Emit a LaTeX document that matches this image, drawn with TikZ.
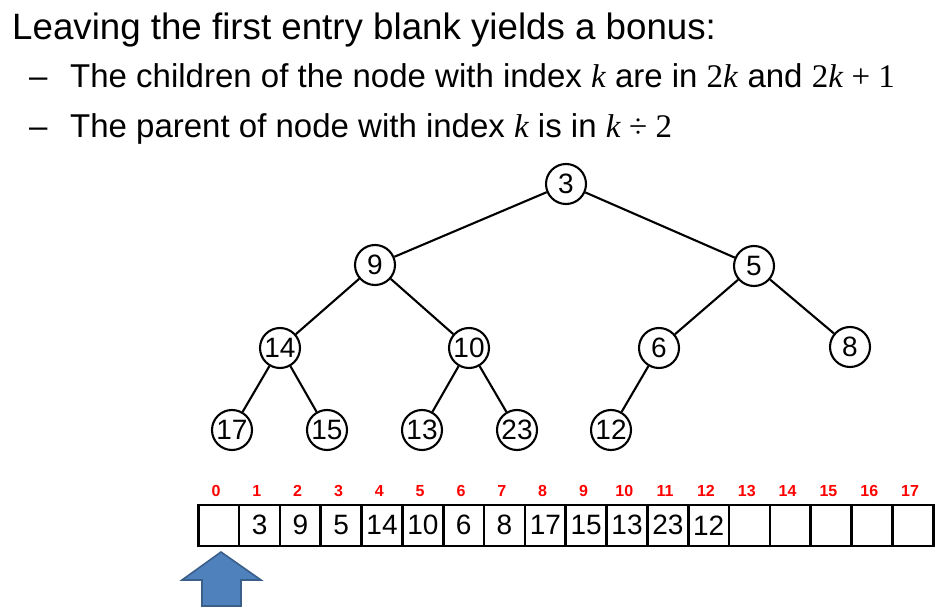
\documentclass[tikz,border=0pt]{standalone}
\usepackage{fontspec}
\setmainfont{Liberation Sans}
\newfontfamily\tms{Liberation Serif}
\definecolor{arrowfill}{HTML}{4F81BD}
\definecolor{arrowline}{HTML}{3A5F8B}
\begin{document}
\begin{tikzpicture}[x=1pt,y=-1pt,
  tnode/.style={circle,draw,line width=2.1pt,minimum size=40pt,inner sep=0pt,font=\fontsize{28}{28}\selectfont},
  tedge/.style={line width=2.1pt},
  cellbox/.style={rectangle,draw,line width=2.6pt,minimum width=40.83pt,minimum height=41pt,inner sep=0pt,anchor=north west,font=\fontsize{28}{28}\selectfont},
  idxlab/.style={text=red,font=\fontsize{16}{16}\selectfont\bfseries,anchor=base},
  txt/.style={anchor=base west,inner sep=0pt}]
\useasboundingbox (0,0) rectangle (950,612);
% text
\node[txt,font=\fontsize{36.7}{36.7}\selectfont] (title) at (12,40) {Leaving the first entry blank yields a bonus:};
\node[txt,font=\fontsize{33}{33}\selectfont] (d1) at (29,88) {–};
\node[txt,font=\fontsize{33}{33}\selectfont] (l1) at (70,88) {The children of the node with index {\tms\itshape k} are in {\tms 2\textit{k}} and {\tms 2\textit{k}\ +\ 1}};
\node[txt,font=\fontsize{33}{33}\selectfont] (d2) at (29,138) {–};
\node[txt,font=\fontsize{33}{33}\selectfont] (l2) at (70,138) {The parent of node with index {\tms\itshape k} is in {\tms\textit{k}\ ÷\ 2}};
% tree
\node[tnode] (n3) at (566,184) {3};
\node[tnode] (n9) at (375,265) {9};
\node[tnode] (n5) at (754,266) {5};
\node[tnode] (n14) at (280,348) {14};
\node[tnode] (n10) at (469,348) {10};
\node[tnode] (n6) at (659,348) {6};
\node[tnode] (n8) at (850,347) {8};
\node[tnode] (n17) at (232,430) {17};
\node[tnode] (n15) at (327,430) {15};
\node[tnode] (n13) at (422,430) {13};
\node[tnode] (n23) at (517,430) {23};
\node[tnode] (n12) at (611,430) {12};
\draw[tedge] (n3) -- (n9);
\draw[tedge] (n3) -- (n5);
\draw[tedge] (n9) -- (n14);
\draw[tedge] (n9) -- (n10);
\draw[tedge] (n5) -- (n6);
\draw[tedge] (n5) -- (n8);
\draw[tedge] (n14) -- (n17);
\draw[tedge] (n14) -- (n15);
\draw[tedge] (n10) -- (n13);
\draw[tedge] (n10) -- (n23);
\draw[tedge] (n6) -- (n12);
% array
\foreach \i/\v in {0/,1/3,2/9,3/5,4/14,5/10,6/6,7/8,8/17,9/15,10/13,11/23,12/12,13/,14/,15/,16/,17/} {
  \node[cellbox] (c\i) at ({197+40.83*\i},503.5) {\v};
  \node[idxlab] (i\i) at ({197+40.83*\i+19},496) {\i};
}
% arrow
\filldraw[fill=arrowfill,draw=arrowline,line width=1.6pt,line join=miter]
  (221,552) -- (261,580) -- (241,580) -- (241,606) -- (202,606) -- (202,580) -- (182,580) -- cycle;
\end{tikzpicture}
\end{document}
